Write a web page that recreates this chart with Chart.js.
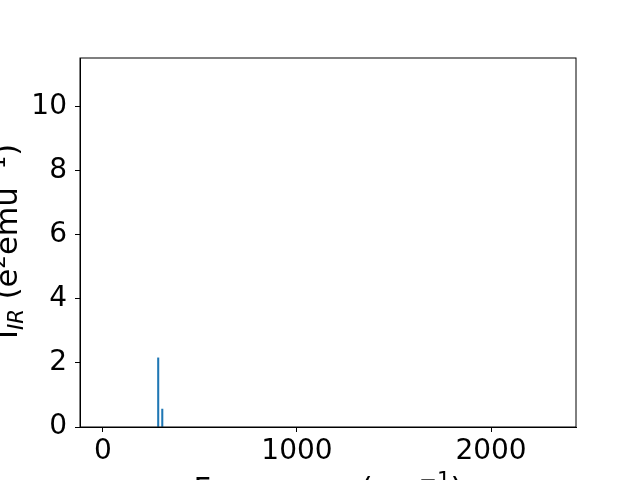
<!DOCTYPE html>
<html>
<head>
<meta charset="utf-8">
<script src="https://cdn.jsdelivr.net/npm/chart.js@4.4.0/dist/chart.umd.min.js"></script>
<style>
  html, body { margin: 0; padding: 0; background: #fff; overflow: hidden; }
  #wrap { width: 640px; height: 480px; }
</style>
</head>
<body>
<div id="wrap"><canvas id="irChart" width="640" height="480"></canvas></div>
<script>
// IR spectrum peaks (frequency in cm^-1, intensity in e^2 emu^-1)
const frequencies = [285, 306];
const intensities = [2.16, 0.56];
const xTicks = [0, 1000, 2000];
const yTicks = [0, 2, 4, 6, 8, 10];
const xRange = [-118, 2438];
const yRange = [0, 11.53];

const FONT = '"DejaVu Sans", sans-serif';
const LABEL_SIZE = 30.5;

// draws a label made of pieces, some super/subscript
function drawRich(ctx, parts, size) {
  let total = 0;
  const measured = parts.map(p => {
    const s = (p.sup || p.sub) ? size * 0.7 : size;
    const f = (p.it ? 'italic ' : '') + s + 'px ' + FONT;
    ctx.font = f;
    const w = ctx.measureText(p.t).width;
    total += w;
    return { p, f, w };
  });
  let x = -total / 2;
  measured.forEach(m => {
    ctx.font = m.f;
    const dy = m.p.sup ? -size * 0.4 : (m.p.sub ? size * 0.2 : 0);
    ctx.fillText(m.p.t, x, dy);
    x += m.w;
  });
}

const labelsPlugin = {
  id: 'labelsPlugin',
  afterDraw(chart) {
    const { ctx, chartArea: a } = chart;
    ctx.save();
    ctx.strokeStyle = '#000';
    ctx.lineWidth = 1;
    ctx.strokeRect(a.left, a.top, a.right - a.left, a.bottom - a.top);
    ctx.fillStyle = '#000';
    ctx.textBaseline = 'alphabetic';
    ctx.textAlign = 'left';

    ctx.save();
    ctx.translate((a.left + a.right) / 2, 499);
    drawRich(ctx, [{ t: 'Frequency (cm' }, { t: '\u22121', sup: 1 }, { t: ')' }], LABEL_SIZE);
    ctx.restore();

    ctx.save();
    ctx.translate(17, (a.top + a.bottom) / 2 - 1);
    ctx.rotate(-Math.PI / 2);
    drawRich(ctx, [
      { t: 'I' }, { t: 'IR', it: 1, sub: 1 }, { t: ' (e' }, { t: '2', sup: 1 },
      { t: 'emu' }, { t: '\u22121', sup: 1 }, { t: ')' }
    ], LABEL_SIZE);
    ctx.restore();
    ctx.restore();
  }
};

new Chart(document.getElementById('irChart').getContext('2d'), {
  type: 'bar',
  data: {
    datasets: [{
      data: frequencies.map((f, i) => ({ x: f, y: intensities[i] })),
      backgroundColor: '#1f77b4',
      barThickness: 1.4
    }]
  },
  options: {
    responsive: false,
    animation: false,
    layout: { padding: { top: 58, right: 64, left: 0, bottom: 0 } },
    plugins: { legend: { display: false }, tooltip: { enabled: false } },
    scales: {
      x: {
        type: 'linear',
        offset: false,
        min: xRange[0],
        max: xRange[1],
        afterBuildTicks: s => { s.ticks = xTicks.map(v => ({ value: v })); },
        afterFit: s => { s.height = 53; },
        grid: { drawOnChartArea: false, drawTicks: true, tickLength: 5, color: '#000', offset: false },
        border: { display: true, color: '#000' },
        ticks: { color: '#000', padding: 3, maxRotation: 0, font: { family: FONT, size: 28 }, callback: v => String(v) }
      },
      y: {
        min: yRange[0],
        max: yRange[1],
        afterBuildTicks: s => { s.ticks = yTicks.map(v => ({ value: v })); },
        afterFit: s => { s.width = 80; },
        grid: { drawOnChartArea: false, drawTicks: true, tickLength: 5, color: '#000' },
        border: { display: true, color: '#000' },
        ticks: { color: '#000', padding: 8, font: { family: FONT, size: 28 }, callback: v => String(v) }
      }
    }
  },
  plugins: [labelsPlugin]
});
</script>
</body>
</html>
